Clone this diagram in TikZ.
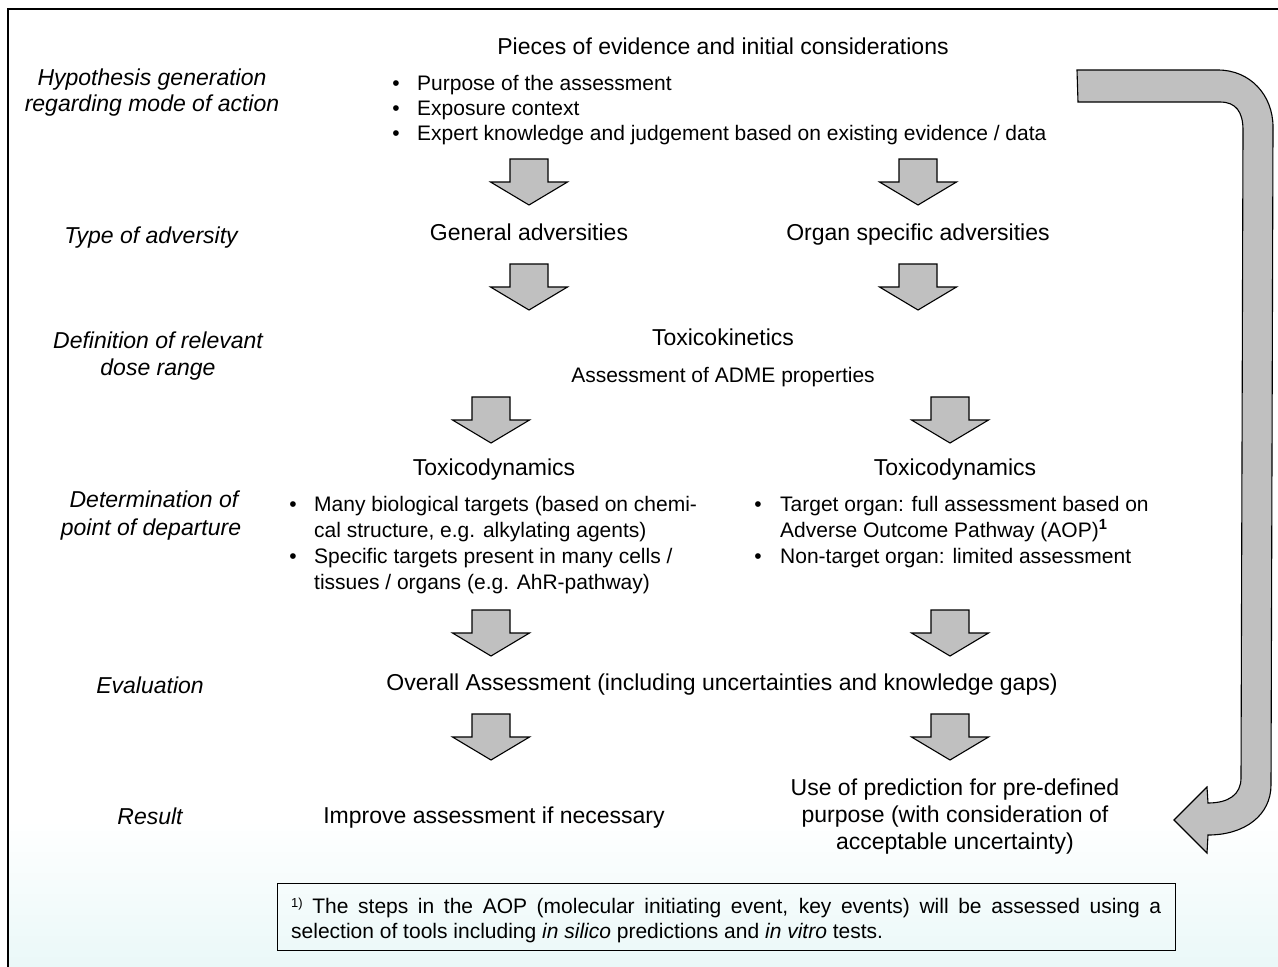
\documentclass[tikz,border=0pt]{standalone}
\usepackage{fontspec}
\setmainfont{Liberation Sans}
\begin{document}
\definecolor{arrgray}{RGB}{192,192,192}
\definecolor{bgcyan}{RGB}{234,248,248}
\tikzset{
  txt/.style={anchor=base, inner sep=0pt, font=\fontsize{21}{25}\selectfont},
  big/.style={anchor=base, inner sep=0pt, font=\fontsize{23}{27}\selectfont},
  lbl/.style={anchor=base, inner sep=0pt, font=\fontsize{23}{27}\selectfont\itshape},
  ltxt/.style={txt, anchor=base west},
  bul/.style={txt},
  blockarr/.style={draw=black, line width=1.1pt, fill=arrgray, line join=miter},
  downarr/.pic={\path[blockarr] (-19,0) -- (19,0) -- (19,23) -- (38.5,23) -- (0,46) -- (-38.5,23) -- (-19,23) -- cycle;}
}
\begin{tikzpicture}[x=1pt,y=-1pt]
\useasboundingbox (0,0) rectangle (1278,967);
% background
\shade[top color=white, bottom color=bgcyan] (8,820) rectangle (1278,967);
\draw[line width=1.3pt] (8,967) -- (8,9) -- (1278,9);

% left labels
\node[lbl] (l1a) at (152,85) {Hypothesis generation};
\node[lbl] (l1b) at (152,111) {regarding mode of action};
\node[lbl] (l2) at (151,243) {Type of adversity};
\node[lbl] (l3a) at (158,348) {Definition of relevant};
\node[lbl] (l3b) at (158,375) {dose range};
\node[lbl] (l4a) at (154,507) {Determination of};
\node[lbl] (l4b) at (151,535) {point of departure};
\node[lbl] (l5) at (150,693) {Evaluation};
\node[lbl] (l6) at (150,824) {Result};

% top block
\node[big] (pieces) at (723,54) {Pieces of evidence and initial considerations};
\node[bul] (b1) at (396,90) {\textbullet};
\node[bul] (b2) at (396,115) {\textbullet};
\node[bul] (b3) at (396,140) {\textbullet};
\node[ltxt] (p1) at (417,90) {Purpose of the assessment};
\node[ltxt] (p2) at (417,115) {Exposure context};
\node[ltxt] (p3) at (417,140) {Expert knowledge and judgement based on existing evidence / data};

\pic at (529,159) {downarr};
\pic at (918,159) {downarr};

\node[big] (gen) at (529,240) {General adversities};
\node[big] (org) at (918,240) {Organ specific adversities};

\pic at (529,264) {downarr};
\pic at (918,264) {downarr};

\node[big] (tk) at (723,345) {Toxicokinetics};
\node[txt] (adme) at (723,382) {Assessment of ADME properties};

\pic at (491,397) {downarr};
\pic at (950,397) {downarr};

\node[big] (tdl) at (494,475) {Toxicodynamics};
\node[big] (tdr) at (955,475) {Toxicodynamics};

\node[bul] (lb1) at (293,511) {\textbullet};
\node[bul] (lb2) at (293,563) {\textbullet};
\node[ltxt] (lt1) at (314,511) {Many biological targets (based on chemi-};
\node[ltxt] (lt2) at (314,537) {cal structure, e.g. alkylating agents)};
\node[ltxt] (lt3) at (314,563) {Specific targets present in many cells /};
\node[ltxt] (lt4) at (314,589) {tissues / organs (e.g. AhR-pathway)};

\node[bul] (rb1) at (758,511) {\textbullet};
\node[bul] (rb2) at (758,563) {\textbullet};
\node[ltxt] (rt1) at (780,511) {Target organ: full assessment based on};
\node[ltxt] (rt2) at (780,537) {Adverse Outcome Pathway (AOP)\textsuperscript{\bfseries 1}};
\node[ltxt] (rt3) at (780,563) {Non-target organ: limited assessment};

\pic at (491,610) {downarr};
\pic at (950,610) {downarr};

\node[big] (overall) at (722,690) {Overall Assessment (including uncertainties and knowledge gaps)};

\pic at (491,714) {downarr};
\pic at (950,714) {downarr};

\node[big] (improve) at (494,823) {Improve assessment if necessary};
\node[big] (use1) at (955,795) {Use of prediction for pre-defined};
\node[big] (use2) at (955,822) {purpose (with consideration of};
\node[big] (use3) at (955,849) {acceptable uncertainty)};

% big return arrow
\path[blockarr] (1077,70) -- (1218,70)
  .. controls (1250,70) and (1273,95) .. (1273,127)
  -- (1271,785)
  .. controls (1271,815) and (1245,835) .. (1208,835)
  -- (1207,853) -- (1174,820) -- (1207,787) -- (1208,803)
  .. controls (1228,803) and (1241,795) .. (1241,778)
  -- (1243,130)
  .. controls (1243,112) and (1236,102) .. (1220,102)
  -- (1078,102) -- cycle;

% footnote box
\node[draw, line width=1.2pt, minimum width=898pt, minimum height=67pt, anchor=north west, inner sep=0pt] (fnbox) at (277,883) {};
\node[anchor=north west, inner sep=0pt, text width=870pt, align=justify, font=\fontsize{21}{25}\selectfont] (fntext) at (291,898)
{\raisebox{0.55ex}{\fontsize{13}{13}\selectfont 1)} The steps in the AOP (molecular initiating event, key events) will be assessed using a\linebreak \mbox{selection} of tools including \textit{in silico} predictions and \textit{in vitro} tests.};
\end{tikzpicture}
\end{document}
